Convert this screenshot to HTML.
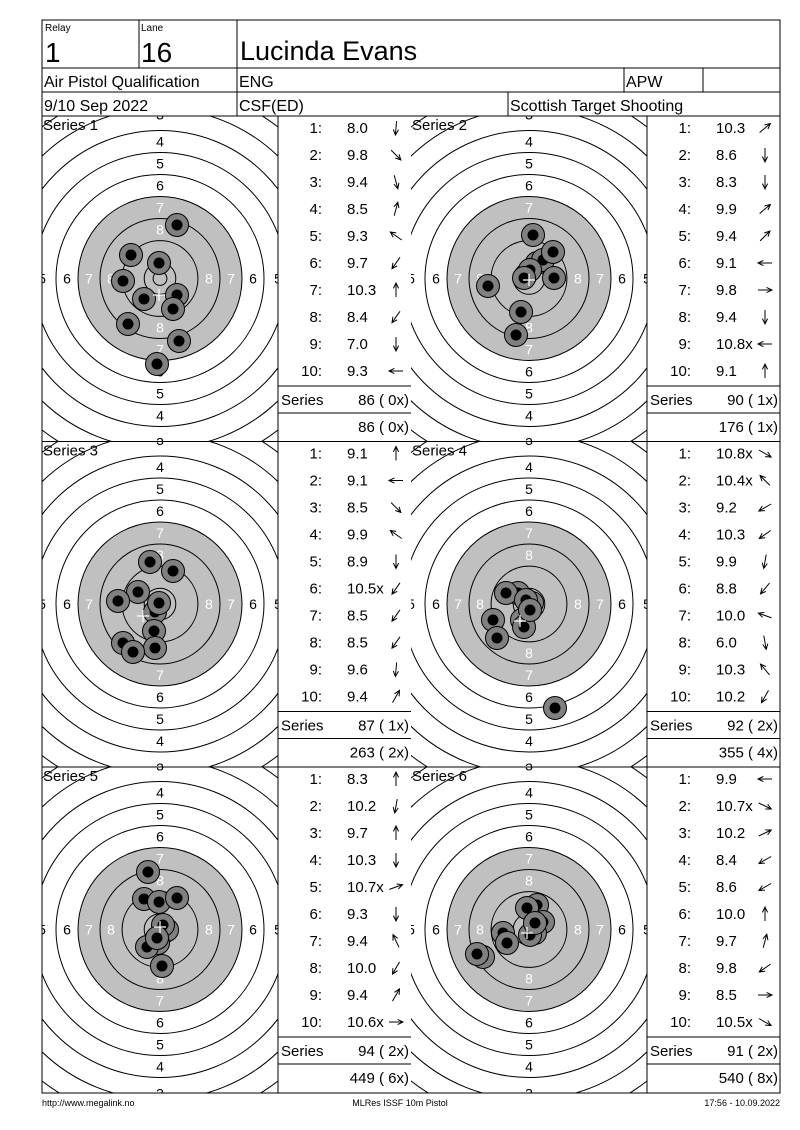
<!DOCTYPE html>
<html><head><meta charset="utf-8"><style>
html,body{margin:0;padding:0;background:#fff;}
svg{display:block;font-family:"Liberation Sans","DejaVu Sans",sans-serif;}
</style></head><body>
<svg id="s" width="800" height="1130" xmlns="http://www.w3.org/2000/svg">
<rect x="42" y="20" width="738" height="1073" fill="none" stroke="#000" stroke-width="1"/>
<g stroke="#000" stroke-width="1">
<line x1="42" y1="68" x2="780" y2="68"/><line x1="42" y1="92" x2="780" y2="92"/><line x1="42" y1="116" x2="780" y2="116"/>
<line x1="139" y1="20" x2="139" y2="68"/><line x1="237" y1="20" x2="237" y2="116"/>
<line x1="624" y1="68" x2="624" y2="92"/><line x1="703" y1="68" x2="703" y2="92"/><line x1="508" y1="92" x2="508" y2="116"/>
</g>
<text x="45" y="31" font-size="10">Relay</text>
<text x="45" y="62" font-size="28">1</text>
<text x="141" y="31" font-size="10">Lane</text>
<text x="141" y="62" font-size="28">16</text>
<text x="240" y="60" font-size="27">Lucinda Evans</text>
<text x="44" y="87" font-size="16">Air Pistol Qualification</text>
<text x="239" y="87" font-size="16">ENG</text>
<text x="626" y="87" font-size="16">APW</text>
<text x="44" y="111" font-size="16">9/10 Sep 2022</text>
<text x="239" y="111" font-size="16">CSF(ED)</text>
<text x="510" y="111" font-size="16">Scottish Target Shooting</text>
<text x="42" y="1106" font-size="9">http://www.megalink.no</text>
<text x="400" y="1106" font-size="9" text-anchor="middle">MLRes ISSF 10m Pistol</text>
<text x="780" y="1106" font-size="9" text-anchor="end">17:56 - 10.09.2022</text>
<g id="p"></g>
</svg>
<script>
var g=document.getElementById('p'),h='';
var series=[
{sc:["8.0","9.8","9.4","8.5","9.3","9.7","10.3","8.4","7.0","9.3"],ar:[95,45,75,-75,-145,125,-90,125,90,180],tot:"86 ( 0x)",cum:"86 ( 0x)",
 sh:[[177,225],[131,255],[159,263],[123,281],[177,295],[144,299],[173,309],[128,324],[179,341],[157,364]],cr:[159,295]},
{sc:["10.3","8.6","8.3","9.9","9.4","9.1","9.8","9.4","10.8x","9.1"],ar:[-40,90,90,-40,-45,180,0,90,180,-90],tot:"90 ( 1x)",cum:"176 ( 1x)",
 sh:[[537,263],[543,260],[530,270],[533,235],[553,252],[554,278],[524,278],[488,286],[521,312],[516,335]],cr:[529,280]},
{sc:["9.1","9.1","8.5","9.9","8.9","10.5x","8.5","8.5","9.6","9.4"],ar:[-90,180,45,-145,90,125,125,125,95,-60],tot:"87 ( 1x)",cum:"263 ( 2x)",
 sh:[[150,562],[173,571],[138,592],[118,601],[155,612],[154,631],[155,648],[123,643],[133,652],[159,603]],cr:[143,616]},
{sc:["10.8x","10.4x","9.2","10.3","9.9","8.8","10.0","6.0","10.3","10.2"],ar:[30,-135,150,145,100,130,-160,80,-130,120],tot:"92 ( 2x)",cum:"355 ( 4x)",
 sh:[[518,593],[506,593],[532,603],[526,600],[522,620],[524,627],[493,620],[497,638],[555,708],[530,610]],cr:[520,621]},
{sc:["8.3","10.2","9.7","10.3","10.7x","9.3","9.4","10.0","9.4","10.6x"],ar:[-90,100,-90,90,-20,90,-115,120,-60,0],tot:"94 ( 2x)",cum:"449 ( 6x)",
 sh:[[148,872],[144,899],[159,902],[177,898],[167,930],[163,925],[158,943],[147,947],[162,966],[157,938]],cr:[160,927]},
{sc:["9.9","10.7x","10.2","8.4","8.6","10.0","9.7","9.8","8.5","10.5x"],ar:[180,25,-25,150,150,-90,-75,145,0,30],tot:"91 ( 2x)",cum:"540 ( 8x)",
 sh:[[537,905],[527,908],[543,922],[535,933],[530,935],[503,933],[507,943],[483,957],[477,954],[535,923]],cr:[527,933]}];
var R={10:15.8,9:37.9,8:60,7:82,6:104,5:126,4:148,3:170,2:192,1:214};
series.forEach(function(s,i){
 var col=i%2,row=Math.floor(i/2),x0=col?411:42,T=116+row*325.5,cx=x0+118,cy=T+162.5,tx=x0+236;
 h+='<clipPath id="c'+i+'"><rect x="'+x0+'" y="'+T+'" width="236" height="325.5"/></clipPath><g clip-path="url(#c'+i+')">';
 h+='<circle cx="'+cx+'" cy="'+cy+'" r="82" fill="#c0c0c0"/>';
 for(var n=1;n<=10;n++){h+='<circle cx="'+cx+'" cy="'+cy+'" r="'+R[n]+'" fill="none" stroke="#000" stroke-width="1"/>';}
 h+='<circle cx="'+cx+'" cy="'+cy+'" r="6.9" fill="none" stroke="#000"/>';
 for(var n=3;n<=8;n++){var d=(R[n]+R[n+1])/2,c=n>=7?'#fff':'#000';
  var dv=n==3?164:d, dh=n==5?118:d;
  var list=[[0,-dv],[0,dv]]; if(n>=5) list.push([-dh,0],[dh,0]);
  list.forEach(function(o){h+='<text x="'+(cx+o[0])+'" y="'+(cy+o[1]+5)+'" font-size="14" text-anchor="middle" fill="'+c+'">'+n+'</text>';});}
 s.sh.forEach(function(p){h+='<circle cx="'+p[0]+'" cy="'+p[1]+'" r="11.5" fill="#808080" stroke="#000" stroke-width="1"/><circle cx="'+p[0]+'" cy="'+p[1]+'" r="5.5" fill="#000"/>';});
 h+='<path d="M'+(s.cr[0]-6)+' '+s.cr[1]+'h12M'+s.cr[0]+' '+(s.cr[1]-6)+'v12" stroke="#fff" stroke-width="1.2"/>';
 h+='</g><text x="'+(x0+1)+'" y="'+(T+14)+'" font-size="15">Series '+(i+1)+'</text>';
 h+='<line x1="'+tx+'" y1="'+T+'" x2="'+tx+'" y2="'+(T+325.5)+'" stroke="#000"/>';
 h+='<line x1="'+tx+'" y1="'+(T+270)+'" x2="'+(tx+133)+'" y2="'+(T+270)+'" stroke="#000"/>';
 h+='<line x1="'+tx+'" y1="'+(T+297)+'" x2="'+(tx+133)+'" y2="'+(T+297)+'" stroke="#000"/>';
 for(var k=0;k<10;k++){var y=T+17+k*27;
  h+='<text x="'+(tx+44)+'" y="'+y+'" font-size="15" text-anchor="end">'+(k+1)+':</text>';
  h+='<text x="'+(tx+69)+'" y="'+y+'" font-size="15">'+s.sc[k]+'</text>';
  var a=s.ar[k]*Math.PI/180,ax=tx+118,ay=y-5,L=7,dx=Math.cos(a)*L,dy=Math.sin(a)*L;
  var x1=ax-dx,y1=ay-dy,x2=ax+dx,y2=ay+dy;
  var h1=a+Math.PI-0.45,h2=a+Math.PI+0.45;
  h+='<path d="M'+x1.toFixed(1)+' '+y1.toFixed(1)+'L'+x2.toFixed(1)+' '+y2.toFixed(1)+'M'+(x2+Math.cos(h1)*6).toFixed(1)+' '+(y2+Math.sin(h1)*6).toFixed(1)+'L'+x2.toFixed(1)+' '+y2.toFixed(1)+'L'+(x2+Math.cos(h2)*6).toFixed(1)+' '+(y2+Math.sin(h2)*6).toFixed(1)+'" stroke="#000" fill="none" stroke-width="1"/>';}
 h+='<text x="'+(tx+3)+'" y="'+(T+289)+'" font-size="15">Series</text>';
 h+='<text x="'+(tx+131)+'" y="'+(T+289)+'" font-size="15" text-anchor="end">'+s.tot+'</text>';
 h+='<text x="'+(tx+131)+'" y="'+(T+316)+'" font-size="15" text-anchor="end">'+s.cum+'</text>';
});
h+='<line x1="42" y1="441.5" x2="780" y2="441.5" stroke="#000"/><line x1="42" y1="767" x2="780" y2="767" stroke="#000"/>';
g.innerHTML=h;
</script>
</body></html>
